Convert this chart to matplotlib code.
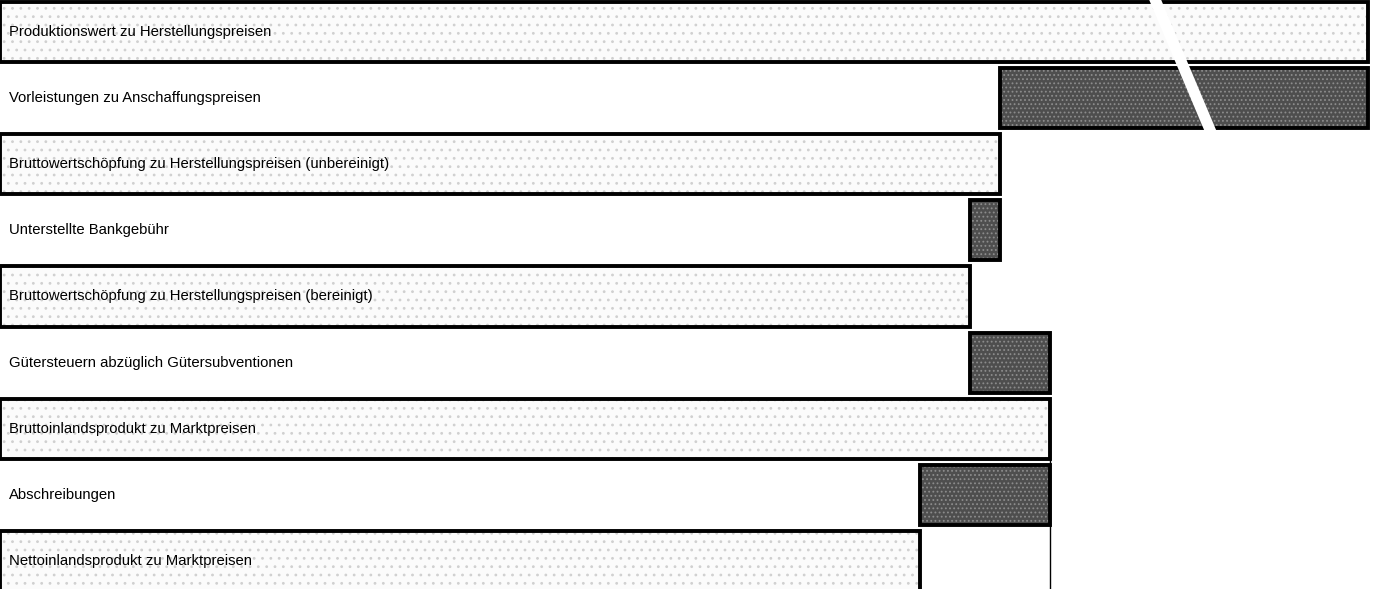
import matplotlib
matplotlib.use("Agg")
import matplotlib.pyplot as plt
from matplotlib.patches import Polygon

plt.rcParams['font.family'] = ['Liberation Sans', 'DejaVu Sans']
plt.rcParams['hatch.linewidth'] = 0.8

labels = [
    "Produktionswert zu Herstellungspreisen",
    "Vorleistungen zu Anschaffungspreisen",
    "Bruttowertschöpfung zu Herstellungspreisen (unbereinigt)",
    "Unterstellte Bankgebühr",
    "Bruttowertschöpfung zu Herstellungspreisen (bereinigt)",
    "Gütersteuern abzüglich Gütersubventionen",
    "Bruttoinlandsprodukt zu Marktpreisen",
    "Abschreibungen",
    "Nettoinlandsprodukt zu Marktpreisen",
]
# totals (displayed lengths; Produktionswert axis is broken)
totals = [1368, 1000, 970, 1050, 920]
is_total = [True, False, True, False, True, False, True, False, True]

fig = plt.figure(figsize=(13.77, 5.89), dpi=100)
ax = fig.add_axes([0, 0, 1, 1])
ax.set_xlim(0, 1377)
ax.set_ylim(8.424, -0.484)
ax.axis('off')

h = 0.91
ti = 0
for i, lab in enumerate(labels):
    if is_total[i]:
        left, width = 0, totals[ti]
        ti += 1
        fc, hc, hatch = '#fbfbfb', '#d0d0d0', '..'
    else:
        a, b = totals[ti - 1], totals[ti]
        left, width = min(a, b), abs(a - b)
        fc, hc, hatch = '#4e4e4e', '#8c8c8c', '....'
    ax.barh(i, width, left=left, height=h, color=fc, edgecolor=hc,
            hatch=hatch, linewidth=0, zorder=1)
    ax.barh(i, width, left=left, height=h, color='none', edgecolor='black',
            linewidth=2.8, zorder=2)
    ax.text(9, i, lab, va='center', ha='left', fontsize=10.7, color='black', zorder=3)

# axis break (white slanted gap through first two bars)
ax.add_patch(Polygon([(1146, -0.6), (1158, -0.6), (1218, 1.55), (1206, 1.55)],
                     closed=True, facecolor='white', edgecolor='none', zorder=4))

# thin connector line below BIP
ax.plot([totals[3], totals[3]], [6, 8.5], color='black', linewidth=1, zorder=0)

fig.savefig("out.png", dpi=100)
